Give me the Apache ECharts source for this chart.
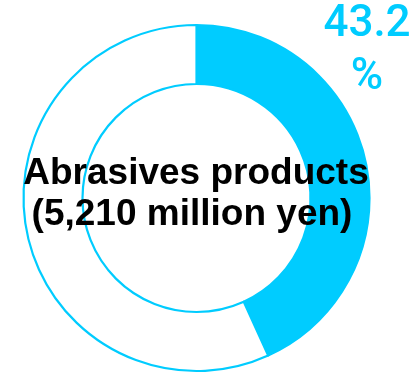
<!DOCTYPE html>
<html>
<head>
<meta charset="utf-8">
<script src="https://cdn.jsdelivr.net/npm/echarts@6/dist/echarts.min.js"></script>
<style>
  html, body { margin: 0; padding: 0; background: #ffffff; }
  #chart { width: 411px; height: 376px; }
</style>
</head>
<body>
<div id="chart"></div>
<script>
// Segment share of net sales (percent)
const segments = ['Abrasives products', 'Other'];
const shares = [43.2, 56.8];
const segmentSales = '5,210';
const salesUnit = 'million yen';

const CYAN = '#00ccff';
const FONT = '"Liberation Sans", Arial, Helvetica, sans-serif';
const PCT_FONT = '500 44px Roboto, "Liberation Sans", Arial, sans-serif';

const chart = echarts.init(document.getElementById('chart'), null, { renderer: 'canvas' });

// Text drawn on top of the ring
function label(x, y, text, color, font) {
  return {
    type: 'text', x: x, y: y, z: 100, zlevel: 0,
    style: { text: text, fill: color, font: font, textAlign: 'center', textVerticalAlign: 'middle' }
  };
}

chart.setOption({
  backgroundColor: '#ffffff',
  animation: false,
  series: [{
    type: 'pie',
    z: 1,
    center: [196.5, 198],
    radius: [114, 173],
    startAngle: 90,
    clockwise: true,
    silent: true,
    label: { show: false },
    labelLine: { show: false },
    data: segments.map((name, i) => ({
      name: name,
      value: shares[i],
      itemStyle: {
        color: i === 0 ? CYAN : '#ffffff',
        borderColor: CYAN,
        borderWidth: 2.2
      }
    }))
  }],
  graphic: {
    elements: [
      label(367, 25, shares[0].toFixed(1), CYAN, PCT_FONT),
      label(367, 78, '%', CYAN, PCT_FONT),
      label(196, 174, segments[0], '#000000', 'bold 37px ' + FONT),
      label(192, 215, '(' + segmentSales + ' ' + salesUnit + ')', '#000000', 'bold 37px ' + FONT)
    ]
  }
});
</script>
</body>
</html>
